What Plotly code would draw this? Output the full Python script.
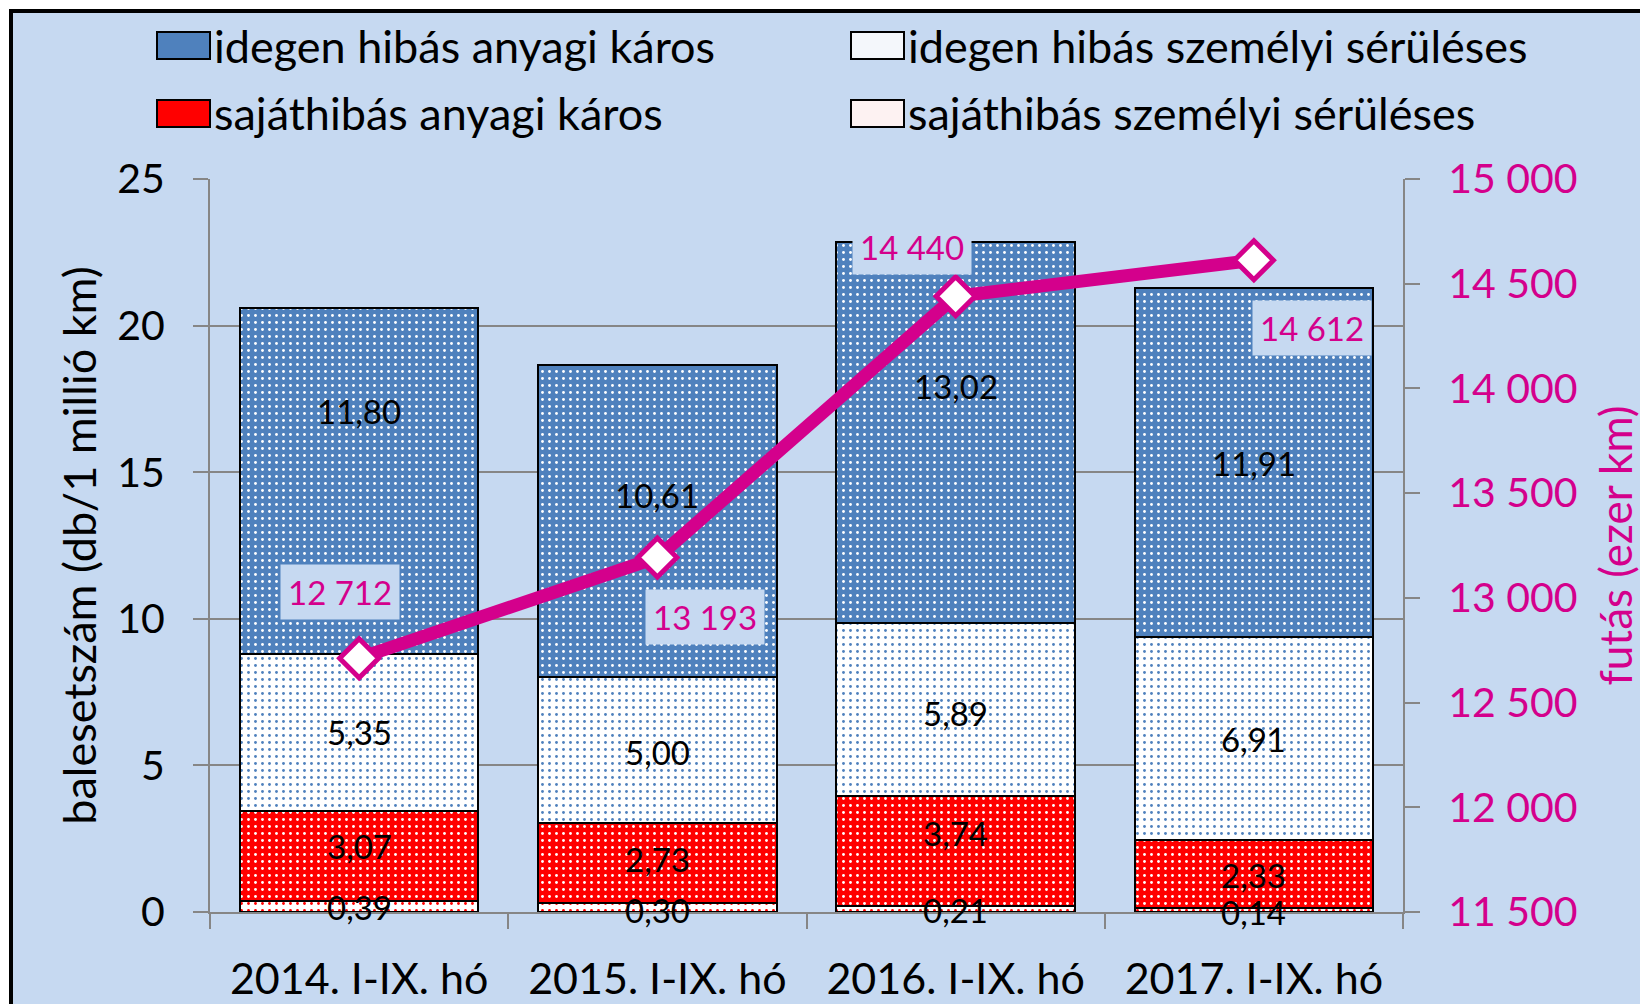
import plotly.graph_objects as go

# ---------------- data ----------------
categories = ["2014. I-IX. hó", "2015. I-IX. hó", "2016. I-IX. hó", "2017. I-IX. hó"]
idegen_anyagi = [11.80, 10.61, 13.02, 11.91]
idegen_szemelyi = [5.35, 5.00, 5.89, 6.91]
sajat_anyagi = [3.07, 2.73, 3.74, 2.33]
sajat_szemelyi = [0.39, 0.30, 0.21, 0.14]
futas = [12712, 13193, 14440, 14612]

name_ia = "idegen hibás anyagi káros"
name_isz = "idegen hibás személyi sérüléses"
name_sa = "sajáthibás anyagi káros"
name_ssz = "sajáthibás személyi sérüléses"

left_title = "balesetszám (db/1 millió km)"
right_title = "futás (ezer km)"

# ---------------- styles / layout ----------------
OFF = 8  # page body margin
W, H = 1640, 996
PX0, PX1, PY0, PY1 = 210, 1403, 179, 912  # plot area in page pixels
L, T = PX0 - OFF, PY0 - OFF
R, B = W - (PX1 - OFF), H - (PY1 - OFF)
PW, PH = PX1 - PX0, PY1 - PY0
BG = "#C6D9F1"
BLUE = "#4F81BD"
RED = "#FF0000"
MAG = "#D4008C"
GRID = "#868686"
FONT = "Lato"


def px(x):
    return (x - PX0) / PW


def py(y):
    return (PY1 - y) / PH


def fmt2(v):
    return f"{v:.2f}".replace(".", ",")


def fmt_k(v):
    return f"{v:,}".replace(",", " ")


fig = go.Figure()

bar_specs = [
    (name_ssz, sajat_szemelyi, "white", RED),
    (name_sa, sajat_anyagi, RED, "white"),
    (name_isz, idegen_szemelyi, "white", BLUE),
    (name_ia, idegen_anyagi, BLUE, "white"),
]
for name, vals, bgc, fgc in bar_specs:
    fig.add_trace(go.Bar(
        name=name, x=categories, y=vals,
        marker=dict(color=bgc, line=dict(color="black", width=2),
                    pattern=dict(shape=".", bgcolor=bgc, fgcolor=fgc,
                                 size=7, solidity=0.13, fillmode="replace")),
        showlegend=False, hoverinfo="name+y",
    ))

fig.add_trace(go.Scatter(
    name="futás", x=categories, y=futas, yaxis="y2", mode="lines+markers",
    line=dict(color=MAG, width=13),
    marker=dict(symbol="diamond", size=30, color="white", line=dict(color=MAG, width=5)),
    showlegend=False, cliponaxis=False,
))

annotations = []

# bar segment value labels (centred in segment, with Excel-like manual nudges)
label_nudges = {
    name_ssz: [-1, -2, -1, -2],
    name_sa: [10, 4, 18, -1],
    name_isz: [0, -2, -3, -1],
    name_ia: [70, 26, 47, -1],
}
base = [0.0] * len(categories)
for name, vals, _, _ in bar_specs:
    for i, (cat, v) in enumerate(zip(categories, vals)):
        annotations.append(dict(
            x=cat, y=base[i] + v / 2, xref="x", yref="y", text=fmt2(v),
            showarrow=False, yshift=label_nudges[name][i],
            font=dict(family=FONT, size=33, color="black"),
        ))
        base[i] += v

# line value labels
label_shifts = [(-19, 66), (48, -60), (-44, 49), (58, -68)]
for cat, v, (dx, dy) in zip(categories, futas, label_shifts):
    annotations.append(dict(
        x=cat, y=v, xref="x", yref="y2", text=fmt_k(v), showarrow=False,
        xshift=dx, yshift=dy, bgcolor=BG, borderpad=7,
        font=dict(family=FONT, size=33, color=MAG),
    ))

# manual legend (page pixel positions)
legend_items = [
    (name_ia, BLUE, 157, 32),
    (name_isz, "#F4F7FB", 851, 32),
    (name_sa, RED, 157, 100),
    (name_ssz, "#FDF2F2", 851, 100),
]
shapes = [dict(type="rect", xref="paper", yref="paper", layer="below",
               x0=px(11), x1=px(1680), y0=py(1040), y1=py(11),
               fillcolor=BG, line=dict(color="black", width=4))]
for name, col, x0, y0 in legend_items:
    shapes.append(dict(type="rect", xref="paper", yref="paper",
                       x0=px(x0), x1=px(x0 + 53), y0=py(y0 + 27), y1=py(y0),
                       fillcolor=col, line=dict(color="black", width=2)))
    annotations.append(dict(
        x=px(x0 + 55), y=py(y0 + 13.5), xref="paper", yref="paper",
        xanchor="left", yanchor="middle", showarrow=False, text=name,
        font=dict(family=FONT, size=45, color="black"),
    ))

axis_common = dict(showline=True, linecolor=GRID, linewidth=2, ticks="outside",
                   ticklen=15, tickwidth=2, tickcolor=GRID, zeroline=False)

fig.update_layout(
    width=W, height=H,
    margin=dict(l=L, r=R, t=T, b=B, autoexpand=False),
    paper_bgcolor="white", plot_bgcolor="rgba(0,0,0,0)",
    barmode="stack", bargap=0.2,
    font=dict(family=FONT, color="black"),
    xaxis=dict(type="category", tickson="boundaries", showgrid=False,
               tickfont=dict(size=43, color="black"), ticklabelstandoff=28,
               **axis_common),
    yaxis=dict(range=[0, 25], dtick=5, showgrid=True, gridcolor=GRID, gridwidth=2,
               tickfont=dict(size=41, color="black"), ticklabelstandoff=20,
               title=dict(text=left_title, font=dict(size=45, color="black"), standoff=6),
               **axis_common),
    yaxis2=dict(range=[11500, 15000], dtick=500, overlaying="y", side="right",
                showgrid=False, tickformat=",d",
                tickfont=dict(size=41, color=MAG), ticklabelstandoff=20,
                title=dict(text=right_title, font=dict(size=44, color=MAG), standoff=25),
                **axis_common),
    separators=", ",
    shapes=shapes,
    annotations=annotations,
)

fig.write_html("out.html")
